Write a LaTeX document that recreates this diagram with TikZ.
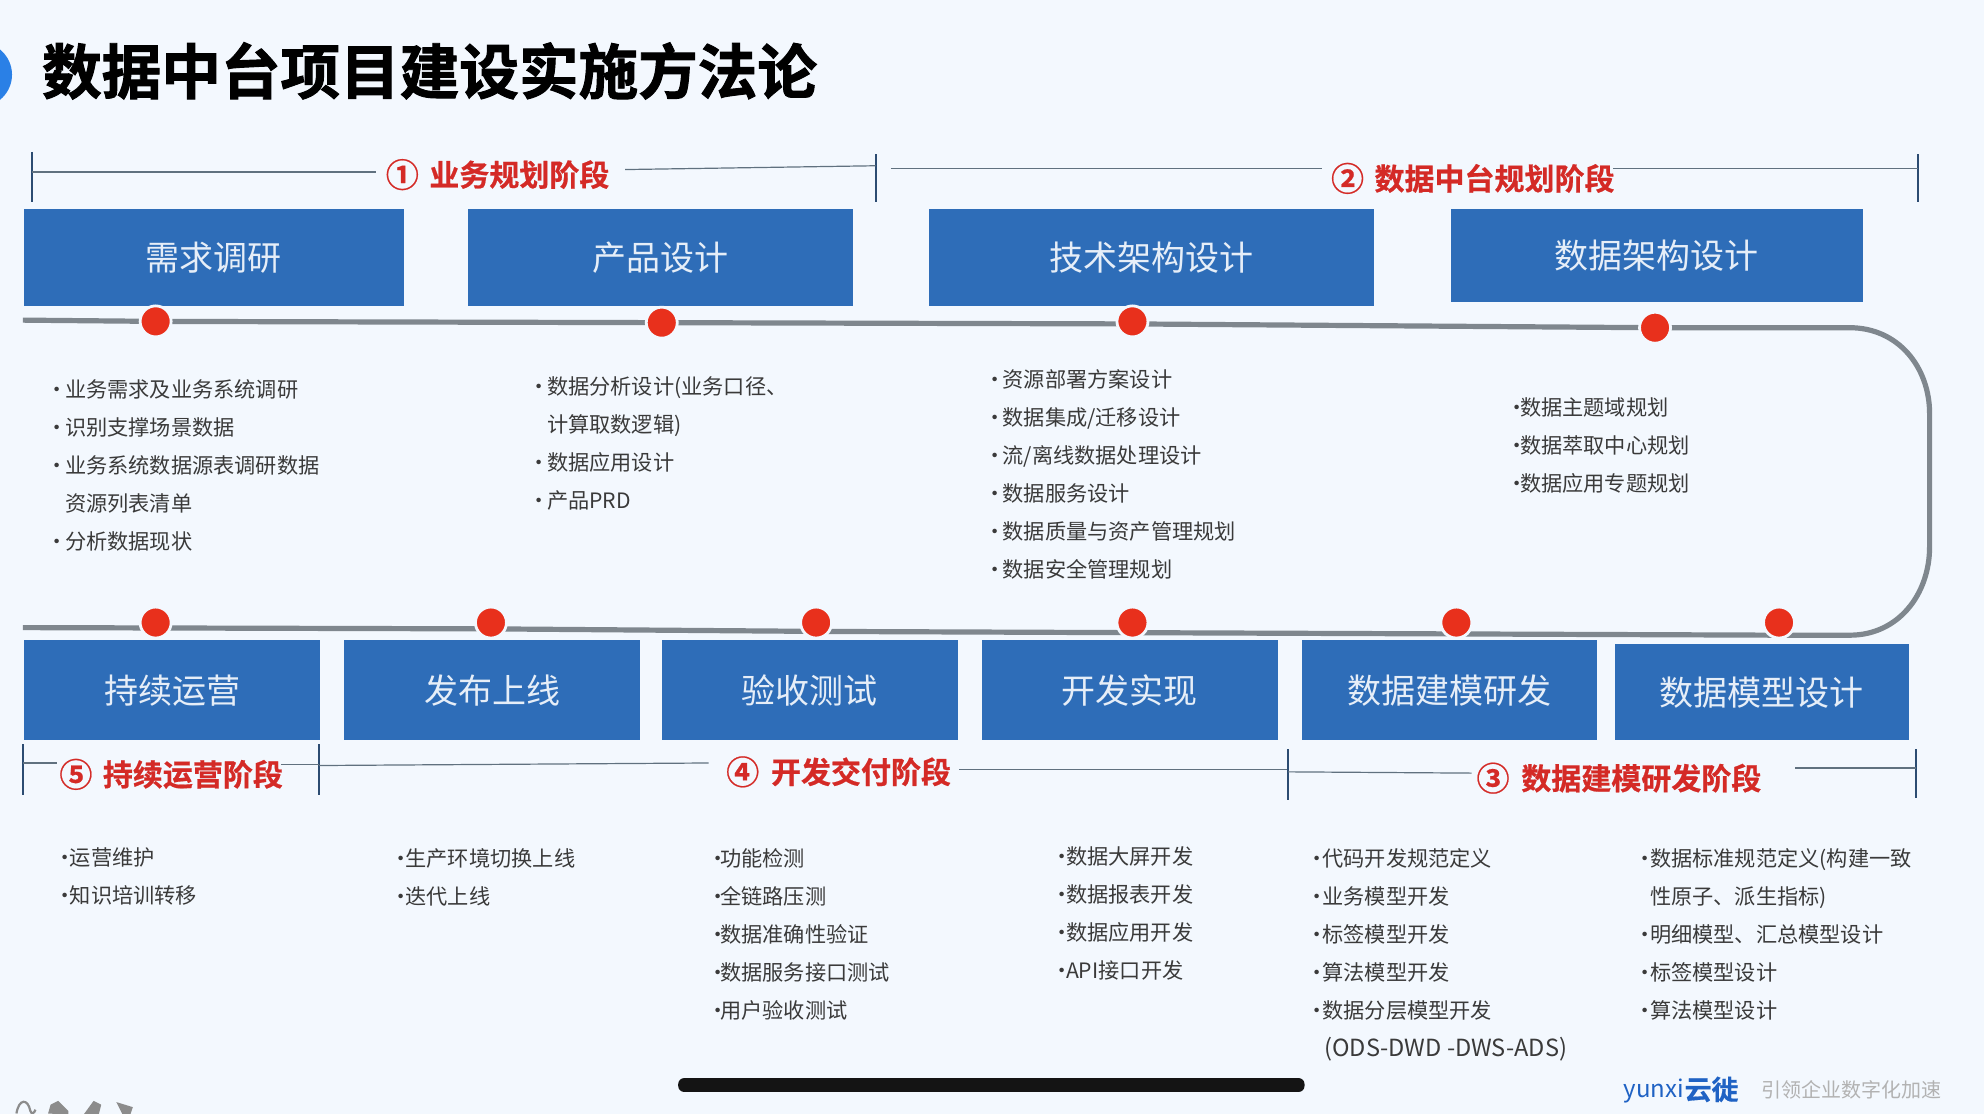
\documentclass[tikz,border=0pt]{standalone}
\usepackage{fontspec}
\setmainfont{Noto Sans CJK SC}
\newfontfamily\heavyfont[FakeBold=1.6]{Noto Sans CJK SC Bold}
\newfontfamily\redfont[FakeBold=0.6]{Noto Sans CJK SC Bold}
\usetikzlibrary{calc}
\definecolor{pagebg}{HTML}{F3F8FE}
\definecolor{boxblue}{HTML}{2E6DB8}
\definecolor{boxtext}{HTML}{E6EEF8}
\definecolor{trackgray}{HTML}{7F878E}
\definecolor{dotred}{HTML}{E8301C}
\definecolor{phasered}{HTML}{D42A26}
\definecolor{listgray}{HTML}{3A3A3A}
\definecolor{barblue}{HTML}{2C4C72}
\definecolor{linegray}{HTML}{60717F}
\definecolor{logoblue}{HTML}{1F62C4}
\definecolor{cornerblue}{HTML}{2A80E6}
\newcommand\li[1]{\makebox[\bulw][l]{\hspace*{-2.2pt}•}#1}
\newcommand\nb[1]{\makebox[\bulw][l]{}#1}
\gdef\bulw{5pt}
\newcommand\setbul[1]{\gdef\bulw{#1}}
\tikzset{
  x=0.63265pt,y=-0.63265pt,
  stagebox/.style={fill=boxblue,draw=none,inner sep=0,text=boxtext,font=\fontsize{17}{20}\selectfont},
  track/.style={draw=trackgray,line width=2.6pt,line join=round},
  stop/.style={circle,fill=dotred,draw=pagebg,line width=1.4pt,minimum size=15.5pt,inner sep=0},
  phasebar/.style={draw=barblue,line width=1pt},
  phaseline/.style={draw=linegray,line width=0.6pt},
  phasetext/.style={text=phasered,inner sep=0,font=\redfont\fontsize{15}{18}\selectfont},
  phasenum/.style={text=phasered,inner sep=0,font=\redfont\fontsize{16.5}{18}\selectfont},
  listtext/.style={anchor=north west,inner sep=0,align=left,text=listgray,font=\fontsize{10.6}{19}\selectfont},
}
\newcommand\stagebox[6]{\node[stagebox,minimum width={(#4-#2)*0.63265pt},minimum height={(#5-#3)*0.63265pt}] (#1) at ({(#2+#4)/2},{(#3+#5)/2}) {#6};}
\begin{document}
\begin{tikzpicture}
\useasboundingbox (0,0) rectangle (1568,880.4);
\clip (0,0) rectangle (1568,880.4);
\fill[pagebg] (0,0) rectangle (1568,880.4);
% corner decoration
\fill[cornerblue] (-16,59) circle (25.5);
% title
\node[anchor=west,inner sep=0,text=black,font=\heavyfont\fontsize{29.8}{32}\selectfont] (title) at (33,56) {数据中台项目建设实施方法论};
% phase 1
\node[phasenum] (n1) at (318,138) {①};
\node[phasetext,anchor=west] (p1) at (339,138) {业务规划阶段};
\coordinate (a1) at (25,120); \coordinate (a2) at (25,160);
\coordinate (a3) at (692,122); \coordinate (a4) at (692,160);
\draw[phasebar] (a1) -- (a2); \draw[phasebar] (a3) -- (a4);
\coordinate (l1) at (25,136); \coordinate (l2) at (297,136);
\coordinate (l3) at (494,134); \coordinate (l4) at (692,131);
\draw[phaseline] (l1) -- (l2); \draw[phaseline] (l3) -- (l4);
% phase 2
\node[phasenum] (n2) at (1065,141) {②};
\node[phasetext,anchor=west] (p2) at (1086,141) {数据中台规划阶段};
\coordinate (b1) at (1516,122); \coordinate (b2) at (1516,160);
\draw[phasebar] (b1) -- (b2);
\coordinate (l5) at (704,133); \coordinate (l6) at (1045,133);
\coordinate (l7) at (1275,133); \coordinate (l8) at (1516,133);
\draw[phaseline] (l5) -- (l6); \draw[phaseline] (l7) -- (l8);
% phase 5
\node[phasenum] (n5) at (60,612) {⑤};
\node[phasetext,anchor=west] (p5) at (81,612) {持续运营阶段};
\coordinate (c1) at (18,588); \coordinate (c2) at (18,628);
\coordinate (c3) at (252,588); \coordinate (c4) at (252,628);
\draw[phasebar] (c1) -- (c2); \draw[phasebar] (c3) -- (c4);
\coordinate (m1) at (18,603); \coordinate (m2) at (45,603);
\coordinate (m3) at (222,604); \coordinate (m4) at (252,604);
\draw[phaseline] (m1) -- (m2); \draw[phaseline] (m3) -- (m4);
% phase 4
\node[phasenum] (n4) at (587,610) {④};
\node[phasetext,anchor=west] (p4) at (609,610) {开发交付阶段};
\coordinate (m5) at (252,605); \coordinate (m6) at (560,603);
\coordinate (m7) at (758,608); \coordinate (m8) at (1018,608);
\draw[phaseline] (m5) -- (m6); \draw[phaseline] (m7) -- (m8);
% phase 3
\node[phasenum] (n3) at (1180,615) {③};
\node[phasetext,anchor=west] (p3) at (1202,615) {数据建模研发阶段};
\coordinate (d1) at (1018,592); \coordinate (d2) at (1018,632);
\coordinate (d3) at (1514,592); \coordinate (d4) at (1514,631);
\draw[phasebar] (d1) -- (d2); \draw[phasebar] (d3) -- (d4);
\coordinate (m9) at (1018,610); \coordinate (m10) at (1163,611);
\coordinate (m11) at (1419,607); \coordinate (m12) at (1514,607);
\draw[phaseline] (m9) -- (m10); \draw[phaseline] (m11) -- (m12);
% stage boxes
\stagebox{s1}{19}{165}{319}{242}{需求调研}
\stagebox{s2}{370}{165}{674}{242}{产品设计}
\stagebox{s3}{734}{165}{1086}{242}{技术架构设计}
\stagebox{s4}{1147}{165}{1472}{239}{数据架构设计}
\stagebox{s5}{19}{506}{253}{585}{持续运营}
\stagebox{s6}{272}{506}{506}{585}{发布上线}
\stagebox{s7}{523}{506}{757}{585}{验收测试}
\stagebox{s8}{776}{506}{1010}{585}{开发实现}
\stagebox{s9}{1029}{506}{1262}{585}{数据建模研发}
\stagebox{s10}{1276}{509}{1509}{585}{数据模型设计}
% track
\coordinate (t0) at (18,253);
\coordinate (t1) at (123,254);
\coordinate (t2) at (523,255);
\coordinate (t3) at (895,256);
\coordinate (t4) at (1308,259);
\coordinate (t5) at (1462,259);
\coordinate (t6) at (1525,327);
\coordinate (t7) at (1525,432);
\coordinate (t8) at (1462,502);
\coordinate (u1) at (1406,502);
\coordinate (u2) at (1151,501);
\coordinate (u3) at (895,500);
\coordinate (u4) at (645,499);
\coordinate (u5) at (388,497);
\coordinate (u6) at (18,496);
\draw[track] (t0) -- (t1) -- (t2) -- (t3) -- (t4) -- (t5)
  .. controls (1500,259) and (1525,290) .. (t6) -- (t7)
  .. controls (1525,470) and (1500,502) .. (t8) -- (u1) -- (u2) -- (u3) -- (u4) -- (u5) -- (u6);
% stops
\node[stop] (k1) at (123,254) {};
\node[stop] (k2) at (523,255) {};
\node[stop] (k3) at (895,254) {};
\node[stop] (k4) at (1308,259) {};
\node[stop] (k5) at (123,492) {};
\node[stop] (k6) at (388,492) {};
\node[stop] (k7) at (645,492) {};
\node[stop] (k8) at (895,492) {};
\node[stop] (k9) at (1151,492) {};
\node[stop] (k10) at (1406,492) {};
% lists
\node[listtext] (list1) at (40,300) {\setbul{7pt}\li{业务需求及业务系统调研}\\\li{识别支撑场景数据}\\\li{业务系统数据源表调研数据}\\\nb{资源列表清单}\\\li{分析数据现状}};
\node[listtext] (list2) at (421,297) {\setbul{7pt}\li{数据分析设计(业务口径、}\\\nb{计算取数逻辑)}\\\li{数据应用设计}\\\li{产品PRD}};
\node[listtext] (list3) at (781,292) {\setbul{7pt}\li{资源部署方案设计}\\\li{数据集成/迁移设计}\\\li{流/离线数据处理设计}\\\li{数据服务设计}\\\li{数据质量与资产管理规划}\\\li{数据安全管理规划}};
\node[listtext] (list4) at (1194,314) {\setbul{4.4pt}\li{数据主题域规划}\\\li{数据萃取中心规划}\\\li{数据应用专题规划}};
\node[listtext] (list5) at (46,670) {\setbul{5.6pt}\li{运营维护}\\\li{知识培训转移}};
\node[listtext] (list6) at (312,670) {\setbul{5.2pt}\li{生产环境切换上线}\\\li{迭代上线}};
\node[listtext] (list7) at (562,670) {\setbul{4.4pt}\li{功能检测}\\\li{全链路压测}\\\li{数据准确性验证}\\\li{数据服务接口测试}\\\li{用户验收测试}};
\node[listtext] (list8) at (834,669) {\setbul{5.2pt}\li{数据大屏开发}\\\li{数据报表开发}\\\li{数据应用开发}\\\li{API接口开发}};
\node[listtext] (list9) at (1036,670) {\setbul{5.6pt}\li{代码开发规范定义}\\\li{业务模型开发}\\\li{标签模型开发}\\\li{算法模型开发}\\\li{数据分层模型开发}\\\nb{\hspace*{1pt}\fontsize{11.8}{19}\selectfont (ODS-DWD -DWS-ADS)}};
\node[listtext] (list10) at (1295,670) {\setbul{5.6pt}\li{数据标准规范定义(构建一致}\\\nb{性原子、派生指标)}\\\li{明细模型、汇总模型设计}\\\li{标签模型设计}\\\li{算法模型设计}};
% bottom bar
\fill[black!92,rounded corners=3pt] (536,852) rectangle (1031,863);
% logo
\node[anchor=west,inner sep=0,text=logoblue,font=\fontsize{12}{14}\selectfont] (logo1) at (1283,862) {yunxi};
\node[anchor=west,inner sep=0,text=logoblue,font=\redfont\fontsize{13.5}{15}\selectfont] (logo2) at (1331,861) {云徙};
\node[anchor=west,inner sep=0,text=black!30,font=\fontsize{10}{12}\selectfont] (slogan) at (1392,861) {引领企业数字化加速};
% bottom-left icons
\draw[black!45,line width=1.1pt] (13,880) .. controls (15,868) and (22,868) .. (24,878) .. controls (25,881) and (27,880) .. (28,877);
\fill[black!45] (38,880) -- (40,873) -- (46,870) -- (54,878) -- (54,881) -- cycle;
\fill[black!45] (66,881) -- (74,870) -- (80,873) -- (78,881) -- cycle;
\fill[black!45] (92,871) -- (105,875) -- (103,881) -- (97,881) -- cycle;
\end{tikzpicture}
\end{document}
